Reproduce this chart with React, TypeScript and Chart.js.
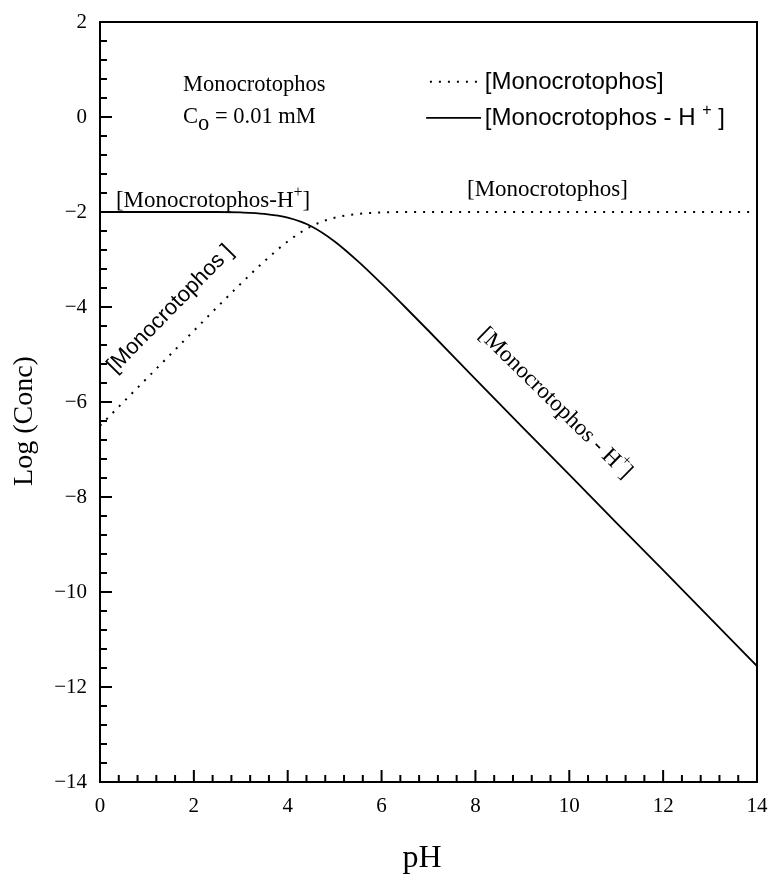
import React, { useEffect, useRef } from "react";
import { Chart, registerables } from "chart.js";

Chart.register(...registerables);

// ---- data ----
const pHValues = [0, 0.5, 1, 1.5, 2, 2.5, 3, 3.5, 4, 4.5, 5, 5.5, 6, 6.5, 7, 8, 9, 10, 11, 12, 13, 14];
const logNeutral = [-6.5, -6.0, -5.5, -5.0, -4.5, -4.0, -3.51, -3.04, -2.62, -2.3, -2.12, -2.04, -2.01, -2.0, -2.0, -2.0, -2.0, -2.0, -2.0, -2.0, -2.0, -2.0];
const logProtonated = [-2.0, -2.0, -2.0, -2.0, -2.0, -2.0, -2.01, -2.04, -2.12, -2.3, -2.62, -3.04, -3.51, -4.0, -4.5, -5.52, -6.53, -7.53, -8.54, -9.54, -10.55, -11.56];

const X_MIN = 0;
const X_MAX = 14;
const Y_MIN = -14;
const Y_MAX = 2;
const MAJOR_STEP = 2;
const MINOR_STEP = 0.4;

const xTitle = "pH";
const yTitle = "Log (Conc)";
const compoundName = "Monocrotophos";
const legendNeutral = "[Monocrotophos]";
const legendProtonated = "[Monocrotophos - H ";

const SERIF = '"Liberation Serif", "Times New Roman", serif';
const SANS = '"Liberation Sans", Arial, sans-serif';

type Seg = { t: string; size: number; family: string; dy?: number };

function drawRich(ctx: CanvasRenderingContext2D, segs: Seg[], x: number, y: number, align: "left" | "center") {
  let total = 0;
  const widths: number[] = [];
  for (const s of segs) {
    ctx.font = `${s.size}px ${s.family}`;
    const w = ctx.measureText(s.t).width;
    widths.push(w);
    total += w;
  }
  let cx = align === "center" ? x - total / 2 : x;
  ctx.textAlign = "left";
  segs.forEach((s, i) => {
    ctx.font = `${s.size}px ${s.family}`;
    ctx.fillText(s.t, cx, y + (s.dy || 0));
    cx += widths[i];
  });
}

const framePlugin = {
  id: "frameAndNotes",
  afterDraw(chart: any) {
    const { ctx, chartArea: a, scales } = chart;
    const xs = scales.x;
    const ys = scales.y;
    const X = (v: number) => xs.getPixelForValue(v);
    const Y = (v: number) => ys.getPixelForValue(v);
    ctx.save();
    ctx.strokeStyle = "#000";
    ctx.fillStyle = "#000";
    ctx.lineWidth = 2;
    ctx.strokeRect(a.left, a.top, a.right - a.left, a.bottom - a.top);

    // inward tick marks
    const nY = Math.round((Y_MAX - Y_MIN) / MINOR_STEP);
    const per = Math.round(MAJOR_STEP / MINOR_STEP);
    ctx.beginPath();
    for (let i = 0; i <= nY; i++) {
      const py = Y(Y_MIN + i * MINOR_STEP);
      const len = i % per === 0 ? 12 : 7;
      ctx.moveTo(a.left, py);
      ctx.lineTo(a.left + len, py);
    }
    const nX = Math.round((X_MAX - X_MIN) / MINOR_STEP);
    for (let i = 0; i <= nX; i++) {
      const px = X(X_MIN + i * MINOR_STEP);
      const len = i % per === 0 ? 12 : 7;
      ctx.moveTo(px, a.bottom);
      ctx.lineTo(px, a.bottom - len);
    }
    ctx.stroke();

    // axis titles
    ctx.textBaseline = "alphabetic";
    ctx.font = `32px ${SERIF}`;
    ctx.textAlign = "center";
    ctx.fillText(xTitle, 422, 867);
    ctx.save();
    ctx.translate(32, 421);
    ctx.rotate(-Math.PI / 2);
    ctx.font = `28px ${SERIF}`;
    ctx.textAlign = "center";
    ctx.fillText(yTitle, 0, 0);
    ctx.restore();

    // info block
    drawRich(ctx, [{ t: compoundName, size: 22.5, family: SERIF }], X(1.77), Y(0.55), "left");
    drawRich(
      ctx,
      [
        { t: "C", size: 22.5, family: SERIF },
        { t: "o", size: 22.5, family: SERIF, dy: 7 },
        { t: " = 0.01 mM", size: 22.5, family: SERIF },
      ],
      X(1.77),
      Y(-0.13),
      "left"
    );

    // legend
    ctx.lineWidth = 2;
    ctx.setLineDash([2, 7]);
    ctx.beginPath();
    ctx.moveTo(X(7.03), Y(0.74));
    ctx.lineTo(X(8.12), Y(0.74));
    ctx.stroke();
    ctx.setLineDash([]);
    ctx.lineWidth = 1.8;
    ctx.beginPath();
    ctx.moveTo(X(6.95), Y(-0.02));
    ctx.lineTo(X(8.12), Y(-0.02));
    ctx.stroke();
    drawRich(ctx, [{ t: legendNeutral, size: 24, family: SANS }], X(8.2), Y(0.58), "left");
    drawRich(
      ctx,
      [
        { t: legendProtonated, size: 24, family: SANS },
        { t: "+", size: 16, family: SANS, dy: -10 },
        { t: " ]", size: 24, family: SANS },
      ],
      X(8.2),
      Y(-0.16),
      "left"
    );

    // curve annotations
    drawRich(ctx, [{ t: "[Monocrotophos]", size: 23, family: SERIF }], X(7.82), Y(-1.663), "left");
    drawRich(
      ctx,
      [
        { t: "[Monocrotophos-H", size: 23, family: SERIF },
        { t: "+", size: 16, family: SERIF, dy: -10 },
        { t: "]", size: 23, family: SERIF },
      ],
      X(0.34),
      Y(-1.895),
      "left"
    );

    ctx.save();
    ctx.translate(X(1.5), Y(-4.04));
    ctx.rotate(-0.794);
    ctx.textBaseline = "middle";
    drawRich(ctx, [{ t: "[Monocrotophos ]", size: 22, family: SANS }], 0, 0, "center");
    ctx.restore();

    ctx.save();
    ctx.translate(X(9.7), Y(-6.03));
    ctx.rotate(0.777);
    ctx.textBaseline = "middle";
    drawRich(
      ctx,
      [
        { t: "[Monocrotophos - H", size: 23, family: SERIF },
        { t: "+", size: 15, family: SERIF, dy: -9 },
        { t: "]", size: 23, family: SERIF },
      ],
      0,
      0,
      "center"
    );
    ctx.restore();

    ctx.restore();
  },
};

const fmt = (v: number) => (v < 0 ? "\u2212" + Math.abs(v) : String(v));

const zeroPad = (s: any) => {
  s.paddingLeft = 0;
  s.paddingRight = 0;
  s.paddingTop = 0;
  s.paddingBottom = 0;
};

export default function App() {
  const ref = useRef<HTMLCanvasElement | null>(null);
  useEffect(() => {
    if (!ref.current) return;
    const chart = new Chart(ref.current, {
      type: "line",
      data: {
        datasets: [
          {
            label: "[Monocrotophos]",
            data: pHValues.map((x, i) => ({ x, y: logNeutral[i] })),
            borderColor: "#000",
            borderWidth: 2,
            borderDash: [2, 7],
            pointRadius: 0,
            cubicInterpolationMode: "monotone",
            fill: false,
          },
          {
            label: "[Monocrotophos - H+]",
            data: pHValues.map((x, i) => ({ x, y: logProtonated[i] })),
            borderColor: "#000",
            borderWidth: 1.8,
            pointRadius: 0,
            cubicInterpolationMode: "monotone",
            fill: false,
          },
        ],
      },
      options: {
        animation: false,
        responsive: false,
        layout: { padding: { top: 22, right: 12, left: 0, bottom: 0 } },
        plugins: { legend: { display: false }, tooltip: { enabled: false } },
        scales: {
          x: {
            type: "linear",
            min: X_MIN,
            max: X_MAX,
            grid: { display: false, drawTicks: false },
            border: { display: false },
            ticks: {
              stepSize: MAJOR_STEP,
              padding: 12,
              color: "#000",
              font: { family: SERIF, size: 21 },
              callback: (v: any) => fmt(Number(v)),
              maxRotation: 0,
            },
            afterFit: (s: any) => {
              s.height = 92;
              zeroPad(s);
            },
          },
          y: {
            type: "linear",
            min: Y_MIN,
            max: Y_MAX,
            grid: { display: false, drawTicks: false },
            border: { display: false },
            ticks: {
              stepSize: MAJOR_STEP,
              padding: 13,
              color: "#000",
              font: { family: SERIF, size: 21 },
              callback: (v: any) => fmt(Number(v)),
            },
            afterFit: (s: any) => {
              s.width = 100;
              zeroPad(s);
            },
          },
        },
      },
      plugins: [framePlugin],
    } as any);
    return () => chart.destroy();
  }, []);
  return (
    <div style={{ position: "absolute", left: 0, top: 0, width: 769, height: 874, background: "#fff" }}>
      <canvas ref={ref} width={769} height={874} style={{ display: "block" }} />
    </div>
  );
}
